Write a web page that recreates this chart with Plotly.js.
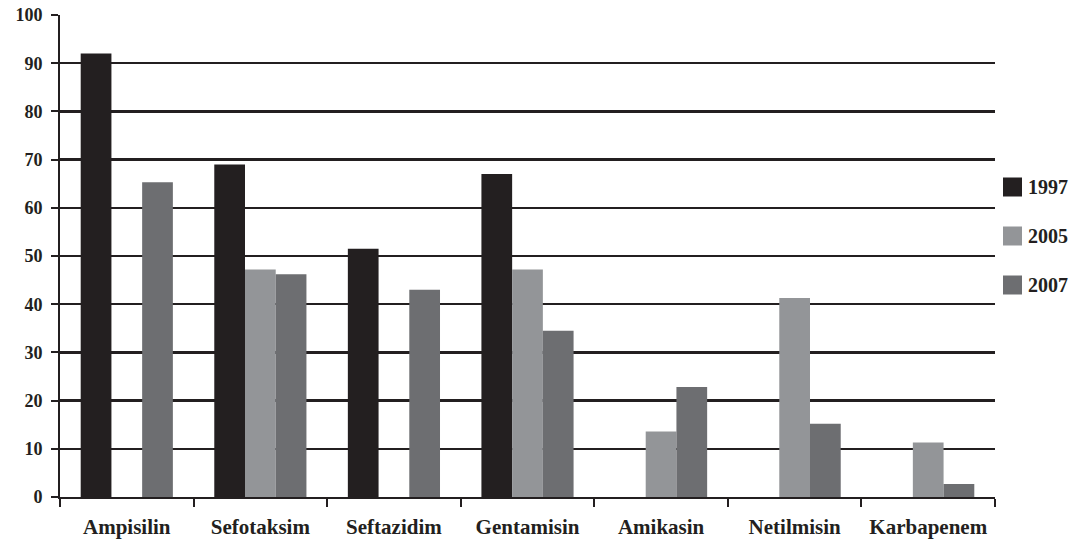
<!DOCTYPE html>
<html>
<head>
<meta charset="utf-8">
<script src="https://cdn.plot.ly/plotly-3.0.1.min.js"></script>
<style>
  html, body { margin: 0; padding: 0; background: #fff; }
  #chart { width: 1075px; height: 545px; }
</style>
</head>
<body>
<div id="chart"></div>
<script>
// Antibiotic resistance (%) by drug for three survey years
const categories = ['Ampisilin', 'Sefotaksim', 'Seftazidim', 'Gentamisin', 'Amikasin', 'Netilmisin', 'Karbapenem'];
const seriesNames = ['1997', '2005', '2007'];
const values1997 = [92, 69, 51.5, 67, null, null, null];
const values2005 = [null, 47.2, null, 47.2, 13.6, 41.3, 11.3];
const values2007 = [65.3, 46.2, 43, 34.5, 22.8, 15.2, 2.7];
const seriesColors = ['#231f20', '#939598', '#6d6e71'];

const seriesValues = [values1997, values2005, values2007];
const fontFamily = '"Liberation Serif", "Times New Roman", serif';
const ink = '#231f20';

const traces = seriesNames.map((name, i) => ({
  type: 'bar',
  name: name,
  x: categories,
  y: seriesValues[i],
  marker: { color: seriesColors[i], line: { width: 0 } },
  hoverinfo: 'x+y+name'
}));

// Plot area in pixels (used to place the hand-drawn legend)
const W = 1075, H = 545;
const margin = { l: 60, r: 80, t: 15, b: 48 };
const plotW = W - margin.l - margin.r;
const plotH = H - margin.t - margin.b;
const px = x => (x - margin.l) / plotW;
const py = y => (H - margin.b - y) / plotH;

const legendCenters = [187, 236, 285];
const shapes = [];
const annotations = [];
seriesNames.forEach((name, i) => {
  const cy = legendCenters[i];
  shapes.push({
    type: 'rect', xref: 'paper', yref: 'paper',
    x0: px(1003), x1: px(1022), y0: py(cy + 9.5), y1: py(cy - 9.5),
    fillcolor: seriesColors[i], line: { width: 0 }
  });
  annotations.push({
    xref: 'paper', yref: 'paper', x: px(1026), y: py(cy),
    xanchor: 'left', yanchor: 'middle', showarrow: false,
    text: '<b>' + name + '</b>',
    font: { family: fontFamily, size: 20, color: ink }
  });
});

const layout = {
  width: W, height: H,
  margin: margin,
  paper_bgcolor: '#ffffff',
  plot_bgcolor: '#ffffff',
  barmode: 'group',
  bargap: 0.31,
  bargroupgap: 0,
  showlegend: false,
  font: { family: fontFamily, color: ink },
  xaxis: {
    type: 'category',
    showline: true, linecolor: ink, linewidth: 2,
    ticks: 'outside', tickson: 'boundaries', ticklen: 8, tickwidth: 2, tickcolor: ink,
    showgrid: false,
    tickfont: { family: fontFamily, size: 21, color: ink, weight: 'bold' },
    ticklabelstandoff: 10
  },
  yaxis: {
    range: [0, 100], dtick: 10,
    showline: true, linecolor: ink, linewidth: 2,
    ticks: 'outside', ticklen: 7, tickwidth: 2, tickcolor: ink,
    showgrid: true, gridcolor: ink, gridwidth: 2.5,
    zeroline: false,
    tickfont: { family: fontFamily, size: 18, color: ink, weight: 'bold' },
    ticklabelstandoff: 5
  },
  shapes: shapes,
  annotations: annotations
};

Plotly.newPlot('chart', traces, layout, { displayModeBar: false, staticPlot: true });
</script>
</body>
</html>
